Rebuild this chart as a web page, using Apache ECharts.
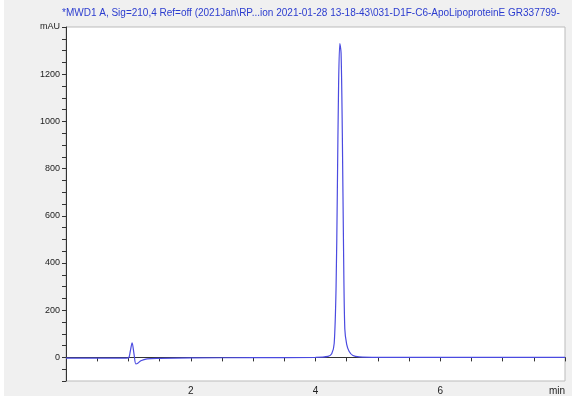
<!DOCTYPE html>
<html><head><meta charset="utf-8">
<script src="https://cdn.jsdelivr.net/npm/echarts@6/dist/echarts.min.js"></script>
<style>html,body{margin:0;padding:0;background:#fff}#c{width:578px;height:415px}</style>
</head><body><div id="c"></div>
<script>
const titleText = "*MWD1 A, Sig=210,4 Ref=off (2021Jan\\RP...ion 2021-01-28 13-18-43\\031-D1F-C6-ApoLipoproteinE GR337799-";
const times = [0,0.5,0.9,1.0,1.03,1.06,1.09,1.12,1.15,1.2,1.3,1.5,2.0,3.0,4.0,4.2,4.26,4.3,4.33,4.35,4.37,4.39,4.41,4.43,4.45,4.47,4.5,4.54,4.6,4.7,5.0,6.0,7.0,8.0];
const values = [-3,-3,-3,-2,25,62,15,-28,-25,-14,-6,-4,-2,-1,0,4,15,60,300,700,1150,1330,1290,950,450,120,55,25,8,2,0,0,0,0];
const data = times.map((t,i)=>[t,values[i]]);
const chart = echarts.init(document.getElementById('c'));
chart.setOption({
  backgroundColor:'#fff',
  animation:false,
  graphic:[{type:'rect',shape:{x:4,y:0,width:568,height:396},style:{fill:'#f0f0f0'},z:-10},
    {type:'text',left:62,top:8,style:{text:titleText,fill:'#2b3ccf',font:'10px "Liberation Sans", Arial'}}],
  grid:{left:66,right:13,top:27,bottom:34,show:true,backgroundColor:'#fff',borderColor:'#bbb',borderWidth:1},
  xAxis:{type:'value',min:0,max:8,interval:0.5,
    axisLine:{show:true,lineStyle:{color:'#333'}},axisTick:{show:true,length:4,lineStyle:{color:'#333'}},
    splitLine:{show:false},
    axisLabel:{interval:0,color:'#222',fontSize:10,fontFamily:'Liberation Sans',margin:5,alignMaxLabel:'right',
      formatter:v=>v===8?'min':((v===2||v===4||v===6)?String(v):'')}},
  yAxis:{type:'value',min:-100,max:1400,interval:50,
    axisLine:{show:true,lineStyle:{color:'#333'}},axisTick:{show:true,length:4,lineStyle:{color:'#333'}},
    splitLine:{show:false},
    axisLabel:{interval:0,color:'#222',fontSize:9,fontFamily:'Liberation Sans',margin:6,
      formatter:v=>v===1400?'mAU':(v>=0&&v%200===0?String(v):'')}},
  series:[{type:'line',data:data,smooth:0.3,showSymbol:false,lineStyle:{color:'#4a4ae0',width:1.2}}]
});
</script></body></html>
